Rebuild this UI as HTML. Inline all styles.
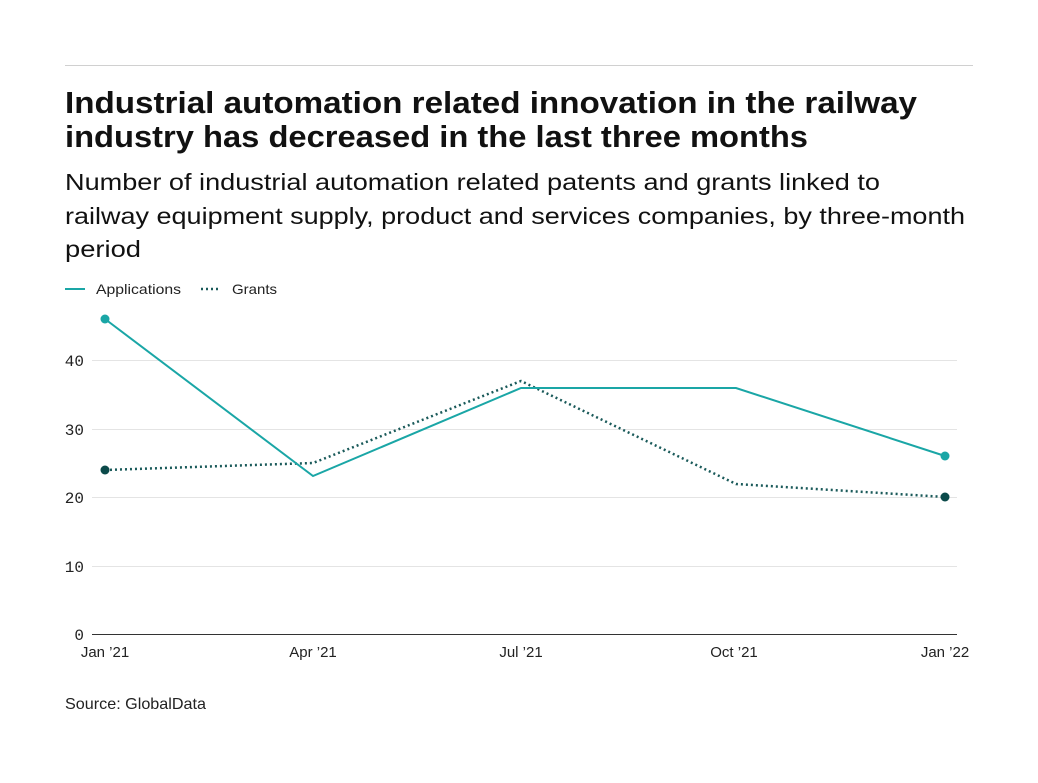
<!DOCTYPE html>
<html><head><meta charset="utf-8"><style>
body{margin:0;background:#fff;width:1038px;height:778px;overflow:hidden}
svg text{font-family:"Liberation Sans",sans-serif}
</style></head><body>
<svg width="1038" height="778" viewBox="0 0 1038 778" xmlns="http://www.w3.org/2000/svg">
<line x1="65" y1="65.5" x2="973" y2="65.5" stroke="#d0d0d0" stroke-width="1"/>
<text x="65" y="113" font-size="31" font-weight="bold" fill="#111" textLength="852" lengthAdjust="spacingAndGlyphs">Industrial automation related innovation in the railway</text>
<text x="65" y="147" font-size="31" font-weight="bold" fill="#111" textLength="743" lengthAdjust="spacingAndGlyphs">industry has decreased in the last three months</text>
<text x="65" y="190" font-size="23" fill="#111" textLength="815" lengthAdjust="spacingAndGlyphs">Number of industrial automation related patents and grants linked to</text>
<text x="65" y="224" font-size="23" fill="#111" textLength="900" lengthAdjust="spacingAndGlyphs">railway equipment supply, product and services companies, by three-month</text>
<text x="65" y="257" font-size="23" fill="#111" textLength="76" lengthAdjust="spacingAndGlyphs">period</text>
<line x1="65" y1="289" x2="85" y2="289" stroke="#1aa6a6" stroke-width="2"/>
<text x="96" y="294" font-size="14" fill="#222" textLength="85" lengthAdjust="spacingAndGlyphs">Applications</text>
<line x1="201" y1="289" x2="221" y2="289" stroke="#1a5a5a" stroke-width="2.5" stroke-dasharray="2,3"/>
<text x="232" y="294" font-size="14" fill="#222" textLength="45" lengthAdjust="spacingAndGlyphs">Grants</text>
<g stroke="#e4e4e4" stroke-width="1">
<line x1="92" y1="360.5" x2="957" y2="360.5"/>
<line x1="92" y1="429.5" x2="957" y2="429.5"/>
<line x1="92" y1="497.5" x2="957" y2="497.5"/>
<line x1="92" y1="566.5" x2="957" y2="566.5"/>
</g>
<line x1="92" y1="634.5" x2="957" y2="634.5" stroke="#333" stroke-width="1"/>
<g font-size="16" fill="#222" text-anchor="end">
<text x="84" y="366" style="font-family:'Liberation Mono',monospace">40</text>
<text x="84" y="435" style="font-family:'Liberation Mono',monospace">30</text>
<text x="84" y="503" style="font-family:'Liberation Mono',monospace">20</text>
<text x="84" y="572" style="font-family:'Liberation Mono',monospace">10</text>
<text x="84" y="640" style="font-family:'Liberation Mono',monospace">0</text>
</g>
<g font-size="15" fill="#222" text-anchor="middle">
<text x="105" y="657">Jan ’21</text>
<text x="313" y="657">Apr ’21</text>
<text x="521" y="657">Jul ’21</text>
<text x="734" y="657">Oct ’21</text>
<text x="945" y="657">Jan ’22</text>
</g>
<polyline points="105,470 313,463 521,381 736,484 945,497" fill="none" stroke="#1a5a5a" stroke-width="2.5" stroke-dasharray="2,3"/>
<polyline points="105,319 313,476 521,388 736,388 945,456" fill="none" stroke="#1aa6a6" stroke-width="2"/>
<circle cx="105" cy="319" r="4.5" fill="#1aa6a6"/>
<circle cx="945" cy="456" r="4.5" fill="#1aa6a6"/>
<circle cx="105" cy="470" r="4.5" fill="#0b4a4a"/>
<circle cx="945" cy="497" r="4.5" fill="#0b4a4a"/>
<text x="65" y="709" font-size="16" fill="#222" textLength="141" lengthAdjust="spacingAndGlyphs">Source: GlobalData</text>
</svg>
</body></html>
